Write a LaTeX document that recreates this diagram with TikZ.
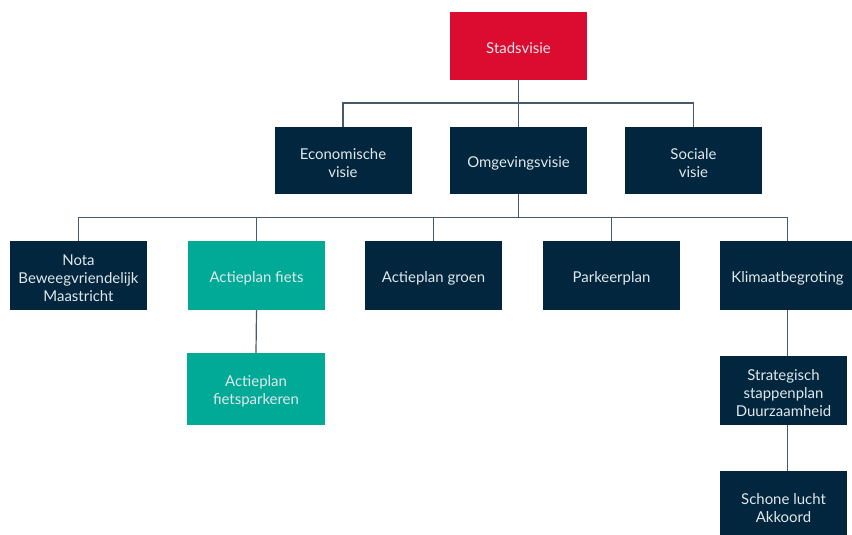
\documentclass[tikz,border=0pt]{standalone}
\usepackage{fontspec}
\setmainfont{Lato}
\definecolor{navy}{RGB}{2,38,61}
\definecolor{crimson}{RGB}{220,12,48}
\definecolor{teal2}{RGB}{0,170,150}
\definecolor{linec}{RGB}{70,90,105}
\definecolor{txt}{RGB}{225,232,236}
\begin{document}
\begin{tikzpicture}[x=1bp,y=-1bp,
  box/.style={draw=none,fill=navy,minimum width=137bp,minimum height=68bp,inner sep=0pt},
  redbox/.style={box,fill=crimson},
  tealbox/.style={box,fill=teal2},
  lbl/.style={text=txt,inner sep=0pt,align=center,font=\fontsize{15}{18}\selectfont,yshift=-2.5bp},
  conn/.style={draw=linec,line width=1.2bp}]
\useasboundingbox (0,0) rectangle (852,535);
\node[redbox,label={[lbl]center:Stadsvisie}] (stad) at (518.5,46) {};
\node[box,minimum height=67bp,label={[lbl]center:Economische\\visie}] (econ) at (343,160.5) {};
\node[box,minimum height=67bp,label={[lbl]center:Omgevingsvisie}] (omg) at (518.5,160.5) {};
\node[box,minimum height=67bp,label={[lbl]center:Sociale\\visie}] (soc) at (693.5,160.5) {};
\node[box,minimum height=69bp,label={[lbl]center:Nota\\Beweegvriendelijk\\Maastricht}] (nota) at (78.5,275.5) {};
\node[tealbox,minimum height=69bp,label={[lbl]center:Actieplan fiets}] (fiets) at (256.5,275.5) {};
\node[box,minimum height=69bp,label={[lbl]center:Actieplan groen}] (groen) at (433.5,275.5) {};
\node[box,minimum height=69bp,label={[lbl]center:Parkeerplan}] (park) at (611.5,275.5) {};
\node[box,minimum height=69bp,minimum width=135bp,label={[lbl]center:Klimaatbegroting}] (klim) at (787.5,275.5) {};
\node[tealbox,minimum height=72bp,minimum width=138bp,label={[lbl]center:Actieplan\\fietsparkeren}] (fp) at (256,389) {};
\node[box,minimum height=69bp,minimum width=127bp,label={[lbl]center:Strategisch\\stappenplan\\Duurzaamheid}] (strat) at (783.5,390.5) {};
\node[box,minimum height=69bp,minimum width=127bp,label={[lbl]center:Schone lucht\\Akkoord}] (schone) at (783.5,505.5) {};
\coordinate (bus1) at (518.5,103);
\coordinate (bus2) at (518.5,217.5);
\draw[conn] (stad.south) -- (omg.north);
\draw[conn] (econ.north) |- (bus1) -| (soc.north);
\draw[conn] (omg.south) -- (bus2);
\draw[conn] (nota.north) |- (bus2) -| (klim.north);
\draw[conn] (fiets.north) -- (fiets.north |- bus2);
\draw[conn] (groen.north) -- (groen.north |- bus2);
\draw[conn] (park.north) -- (park.north |- bus2);
\draw[conn] (fiets.south) -- (fp.north);
\draw[conn] (klim.south) -- (klim.south |- strat.north);
\draw[conn] (klim.south |- strat.south) -- (klim.south |- schone.north);
\end{tikzpicture}
\end{document}
